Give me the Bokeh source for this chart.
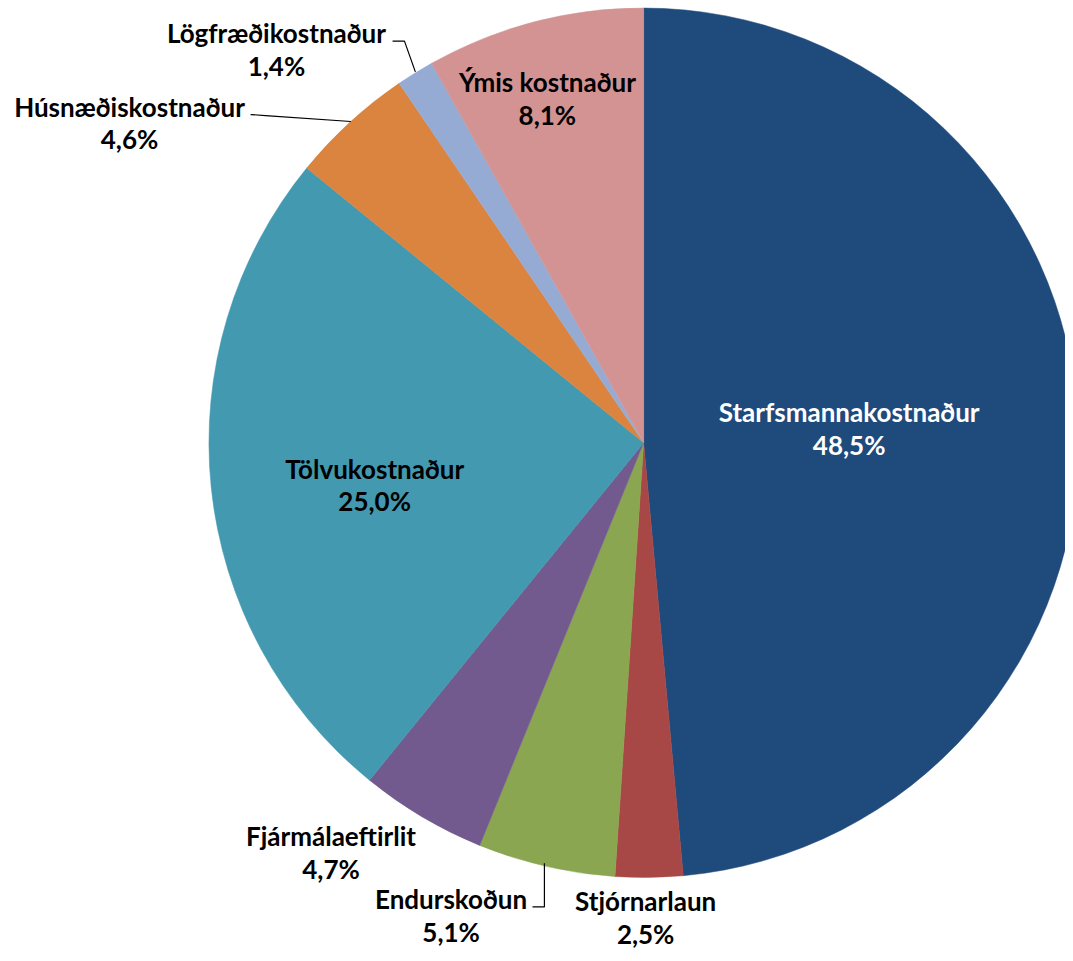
import math
from bokeh.plotting import figure
from bokeh.models import Range1d, ColumnDataSource
from bokeh.core.properties import value
from bokeh.embed import file_html
from bokeh.resources import INLINE

# ---- data ----
categories = ["Starfsmannakostnaður", "Stjórnarlaun", "Endurskoðun", "Fjármálaeftirlit",
              "Tölvukostnaður", "Húsnæðiskostnaður", "Lögfræðikostnaður", "Ýmis kostnaður"]
shares = [48.5, 2.5, 5.1, 4.7, 25.0, 4.6, 1.4, 8.1]
colors = ["#1F4A7C", "#A84846", "#8AA650", "#725A8F", "#4399B0", "#DA843F", "#96ABD4", "#D39393"]
text_colors = ["white", "black", "black", "black", "black", "black", "black", "black"]

# ---- layout (reference image pixel coordinates, y downwards) ----
W, H = 1065, 953          # figure size in screen pixels
IW, IH = 1073, 961        # coordinate space of the reference image
def sy(y):  # image y -> data y
    return IH - y

cx, cy, R = 648, sy(446), 438
label_pos = [(855, 415), (650, 908), (454, 906), (333, 843),
             (377, 472), (130, 107), (278, 33), (551, 82)]
line_gap = 33

p = figure(width=W, height=H, output_backend="svg", toolbar_location=None,
           x_range=Range1d(0, IW), y_range=Range1d(0, IH),
           min_border=0, outline_line_color=None)
p.axis.visible = False
p.grid.visible = False
p.background_fill_color = "white"
p.border_fill_color = "white"

total = sum(shares)
starts, ends = [], []
acc = 0.0
for v in shares:
    starts.append(math.pi / 2 - 2 * math.pi * acc / total)
    acc += v
    ends.append(math.pi / 2 - 2 * math.pi * acc / total)

src = ColumnDataSource(dict(x=[cx] * len(shares), y=[cy] * len(shares),
                            start=starts, end=ends, color=colors))
p.wedge(x="x", y="y", radius=R, start_angle="start", end_angle="end",
        direction="clock", fill_color="color", line_color="color", line_width=0.5,
        source=src)

# leader lines
leaders = [
    ([395, 407, 418], [41, 41, 72]),
    ([252, 267, 353], [115, 116, 122]),
    ([536, 548, 548], [914, 914, 870]),
]
for xs, ys in leaders:
    p.line(xs, [sy(v) for v in ys], line_color="black", line_width=1.2)

pct = [("%.1f" % v).replace(".", ",") + "%" for v in shares]
lx = [pt[0] for pt in label_pos]
ly1 = [sy(pt[1]) for pt in label_pos]
ly2 = [sy(pt[1] + line_gap) for pt in label_pos]
tsrc = ColumnDataSource(dict(x=lx, y1=ly1, y2=ly2, name=categories, pct=pct, tc=text_colors))
for col, ycol in (("name", "y1"), ("pct", "y2")):
    p.text(x="x", y=ycol, text=col, source=tsrc, text_color="tc",
           text_font=value("Lato"), text_font_style="bold", text_font_size="26px",
           text_align="center", text_baseline="middle")

open("out.html", "w").write(file_html(p, INLINE))
